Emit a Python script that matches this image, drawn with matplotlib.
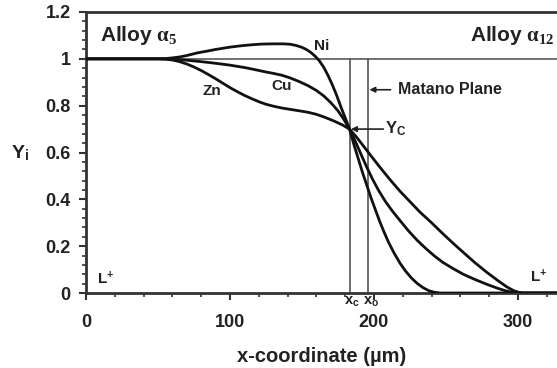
import matplotlib
matplotlib.use("Agg")
import matplotlib.pyplot as plt
from matplotlib.ticker import MultipleLocator

plt.rcParams['font.family'] = ['Liberation Sans', 'DejaVu Sans']
plt.rcParams['font.weight'] = 'bold'
plt.rcParams['mathtext.fontset'] = 'custom'
plt.rcParams['mathtext.rm'] = 'Liberation Serif'
plt.rcParams['mathtext.it'] = 'Liberation Serif:italic'
plt.rcParams['mathtext.bf'] = 'Liberation Sans:bold'

# ---- data ----
ni_x = [0, 50, 55, 60, 65, 70, 77, 85, 90, 100, 108, 115, 122, 130, 137, 142, 146, 150, 153, 156,
        159, 162, 165, 168, 171, 174, 177, 180, 183, 186, 189, 192, 195, 198, 201, 204, 207, 210,
        214, 218, 222, 226, 230, 234, 238, 242, 246, 330]
ni_y = [1, 1, 1.001, 1.004, 1.008, 1.014, 1.025, 1.034, 1.040, 1.050, 1.056, 1.060, 1.063, 1.064, 1.064,
        1.062, 1.057, 1.049, 1.040, 1.028, 1.012, 0.992, 0.965, 0.930, 0.890, 0.845, 0.795, 0.748, 0.700,
        0.635, 0.575, 0.515, 0.460, 0.405, 0.355, 0.305, 0.260, 0.218, 0.170, 0.128, 0.093, 0.064, 0.041,
        0.023, 0.010, 0.003, 0, 0]

cu_x = [0, 50, 60, 70, 80, 90, 100, 110, 118, 124, 130, 136, 142, 148, 154, 160, 165, 170, 175, 179,
        183, 187, 191, 195, 199, 203, 208, 213, 218, 224, 230, 236, 242, 248, 255, 262, 270, 278, 285,
        291, 296, 300, 330]
cu_y = [1, 1, 0.998, 0.994, 0.988, 0.981, 0.973, 0.963, 0.953, 0.945, 0.938, 0.930, 0.918, 0.903, 0.886,
        0.865, 0.842, 0.813, 0.778, 0.742, 0.700, 0.648, 0.592, 0.537, 0.486, 0.440, 0.390, 0.348, 0.310,
        0.265, 0.225, 0.190, 0.158, 0.130, 0.104, 0.080, 0.058, 0.038, 0.022, 0.010, 0.003, 0, 0]

zn_x = [0, 50, 55, 60, 65, 70, 75, 80, 85, 90, 95, 100, 105, 110, 115, 120, 125, 130, 136, 142, 148,
        154, 160, 166, 172, 178, 183, 188, 193, 198, 204, 211, 218, 225, 232, 240, 247, 255, 263, 270,
        278, 286, 292, 297, 301, 304, 330]
zn_y = [1, 1, 0.999, 0.995, 0.988, 0.978, 0.965, 0.950, 0.933, 0.915, 0.896, 0.877, 0.860, 0.844, 0.830,
        0.817, 0.806, 0.798, 0.790, 0.784, 0.778, 0.772, 0.763, 0.750, 0.735, 0.718, 0.700, 0.665, 0.625,
        0.585, 0.538, 0.485, 0.435, 0.390, 0.345, 0.300, 0.258, 0.212, 0.168, 0.130, 0.090, 0.053, 0.027,
        0.010, 0.002, 0, 0]

x_c = 183
x_o = 196
y_c = 0.70
x_ticks = [0, 100, 200, 300]
y_ticks = [0, 0.2, 0.4, 0.6, 0.8, 1, 1.2]
y_tick_labels = ['0', '0.2', '0.4', '0.6', '0.8', '1', '1.2']

W, H = 557, 368
fig = plt.figure(figsize=(W / 100, H / 100), dpi=100)
ax = fig.add_axes([86 / W, 1 - 293 / H, 1 - 86 / W, (293 - 12) / H])
ax.set_xlim(0, (W - 86) / 1.44)
ax.set_ylim(0, 1.2)

curve_kw = dict(color='#111111', lw=2.0, solid_joinstyle='round', zorder=3)
ax.plot(ni_x, ni_y, **curve_kw)
ax.plot(cu_x, cu_y, **curve_kw)
ax.plot(zn_x, zn_y, **curve_kw)

ax.axhline(1.0, color='#666666', lw=1.3, zorder=1)
ax.axvline(x_c, ymax=1.0 / 1.2, color='#555555', lw=1.2, zorder=2)
ax.axvline(x_o, ymax=1.0 / 1.2, color='#555555', lw=1.2, zorder=2)

# spines
for s in ['left', 'bottom', 'top']:
    ax.spines[s].set_linewidth(2.0)
    ax.spines[s].set_color('#333333')
ax.spines['right'].set_visible(False)

ax.set_xticks(x_ticks)
ax.set_yticks(y_ticks)
ax.set_yticklabels(y_tick_labels)
ax.xaxis.set_minor_locator(MultipleLocator(20))
ax.yaxis.set_minor_locator(MultipleLocator(0.04))
ax.tick_params(which='major', direction='out', length=5, width=1.5, color='#333333',
               labelsize=13, top=False, right=False)
ax.tick_params(which='minor', direction='out', length=3, width=1.2, color='#333333',
               top=False, right=False)
ax.tick_params(axis='x', which='major', pad=10)
ax.tick_params(axis='y', which='major', pad=6)
for lab in ax.get_xticklabels() + ax.get_yticklabels():
    lab.set_fontweight('bold')
    lab.set_color('#222222')

ax.set_xlabel('x-coordinate (\u00b5m)', fontsize=14.5, fontweight='bold', color='#222222', labelpad=12)
fig.text(20 / W, 1 - 153 / H, r'Y$_{\mathbf{i}}$', fontsize=14, fontweight='bold',
         ha='center', va='center', color='#222222')

# annotations
ax.text(9.5, 1.10, r'Alloy $\mathrm{\alpha_{5}}$', fontsize=15, fontweight='bold',
        ha='left', va='center', color='#222222')
ax.text(325.5, 1.10, r'Alloy $\mathrm{\alpha_{12}}$', fontsize=15, fontweight='bold',
        ha='right', va='center', color='#222222')
ax.text(164, 1.055, 'Ni', fontsize=11, fontweight='bold', ha='center', va='center', color='#222222')
ax.text(87.5, 0.862, 'Zn', fontsize=11, fontweight='bold', ha='center', va='center', color='#222222')
ax.text(136, 0.885, 'Cu', fontsize=11, fontweight='bold', ha='center', va='center', color='#222222')
ax.text(216.5, 0.868, 'Matano Plane', fontsize=11.5, fontweight='bold', ha='left', va='center', color='#222222')
ax.annotate('', xy=(x_o + 0.8, 0.868), xytext=(211.5, 0.868),
            arrowprops=dict(arrowstyle='-|>', color='#222222', lw=1.2, mutation_scale=8,
                            shrinkA=0, shrinkB=0))
ax.text(207.5, 0.70, r'Y$_{\mathbf{C}}$', fontsize=12, fontweight='bold', ha='left', va='center', color='#222222')
ax.annotate('', xy=(x_c + 1.0, y_c), xytext=(206.5, y_c),
            arrowprops=dict(arrowstyle='-|>', color='#222222', lw=1.2, mutation_scale=8,
                            shrinkA=0, shrinkB=0))
ax.text(7.5, 0.06, r'L$^{\mathbf{+}}$', fontsize=11, fontweight='bold', ha='left', va='center', color='#222222')
ax.text(308, 0.07, r'L$^{\mathbf{+}}$', fontsize=11, fontweight='bold', ha='left', va='center', color='#222222')
ax.text(x_c + 1.5, -0.04, r'x$_{\mathbf{c}}$', fontsize=10.5, fontweight='bold', ha='center', va='center',
        color='#222222', clip_on=False)
ax.text(x_o + 2.0, -0.04, r'x$_{\mathbf{o}}$', fontsize=10.5, fontweight='bold', ha='center', va='center',
        color='#222222', clip_on=False)

fig.savefig('out.png', dpi=100)
